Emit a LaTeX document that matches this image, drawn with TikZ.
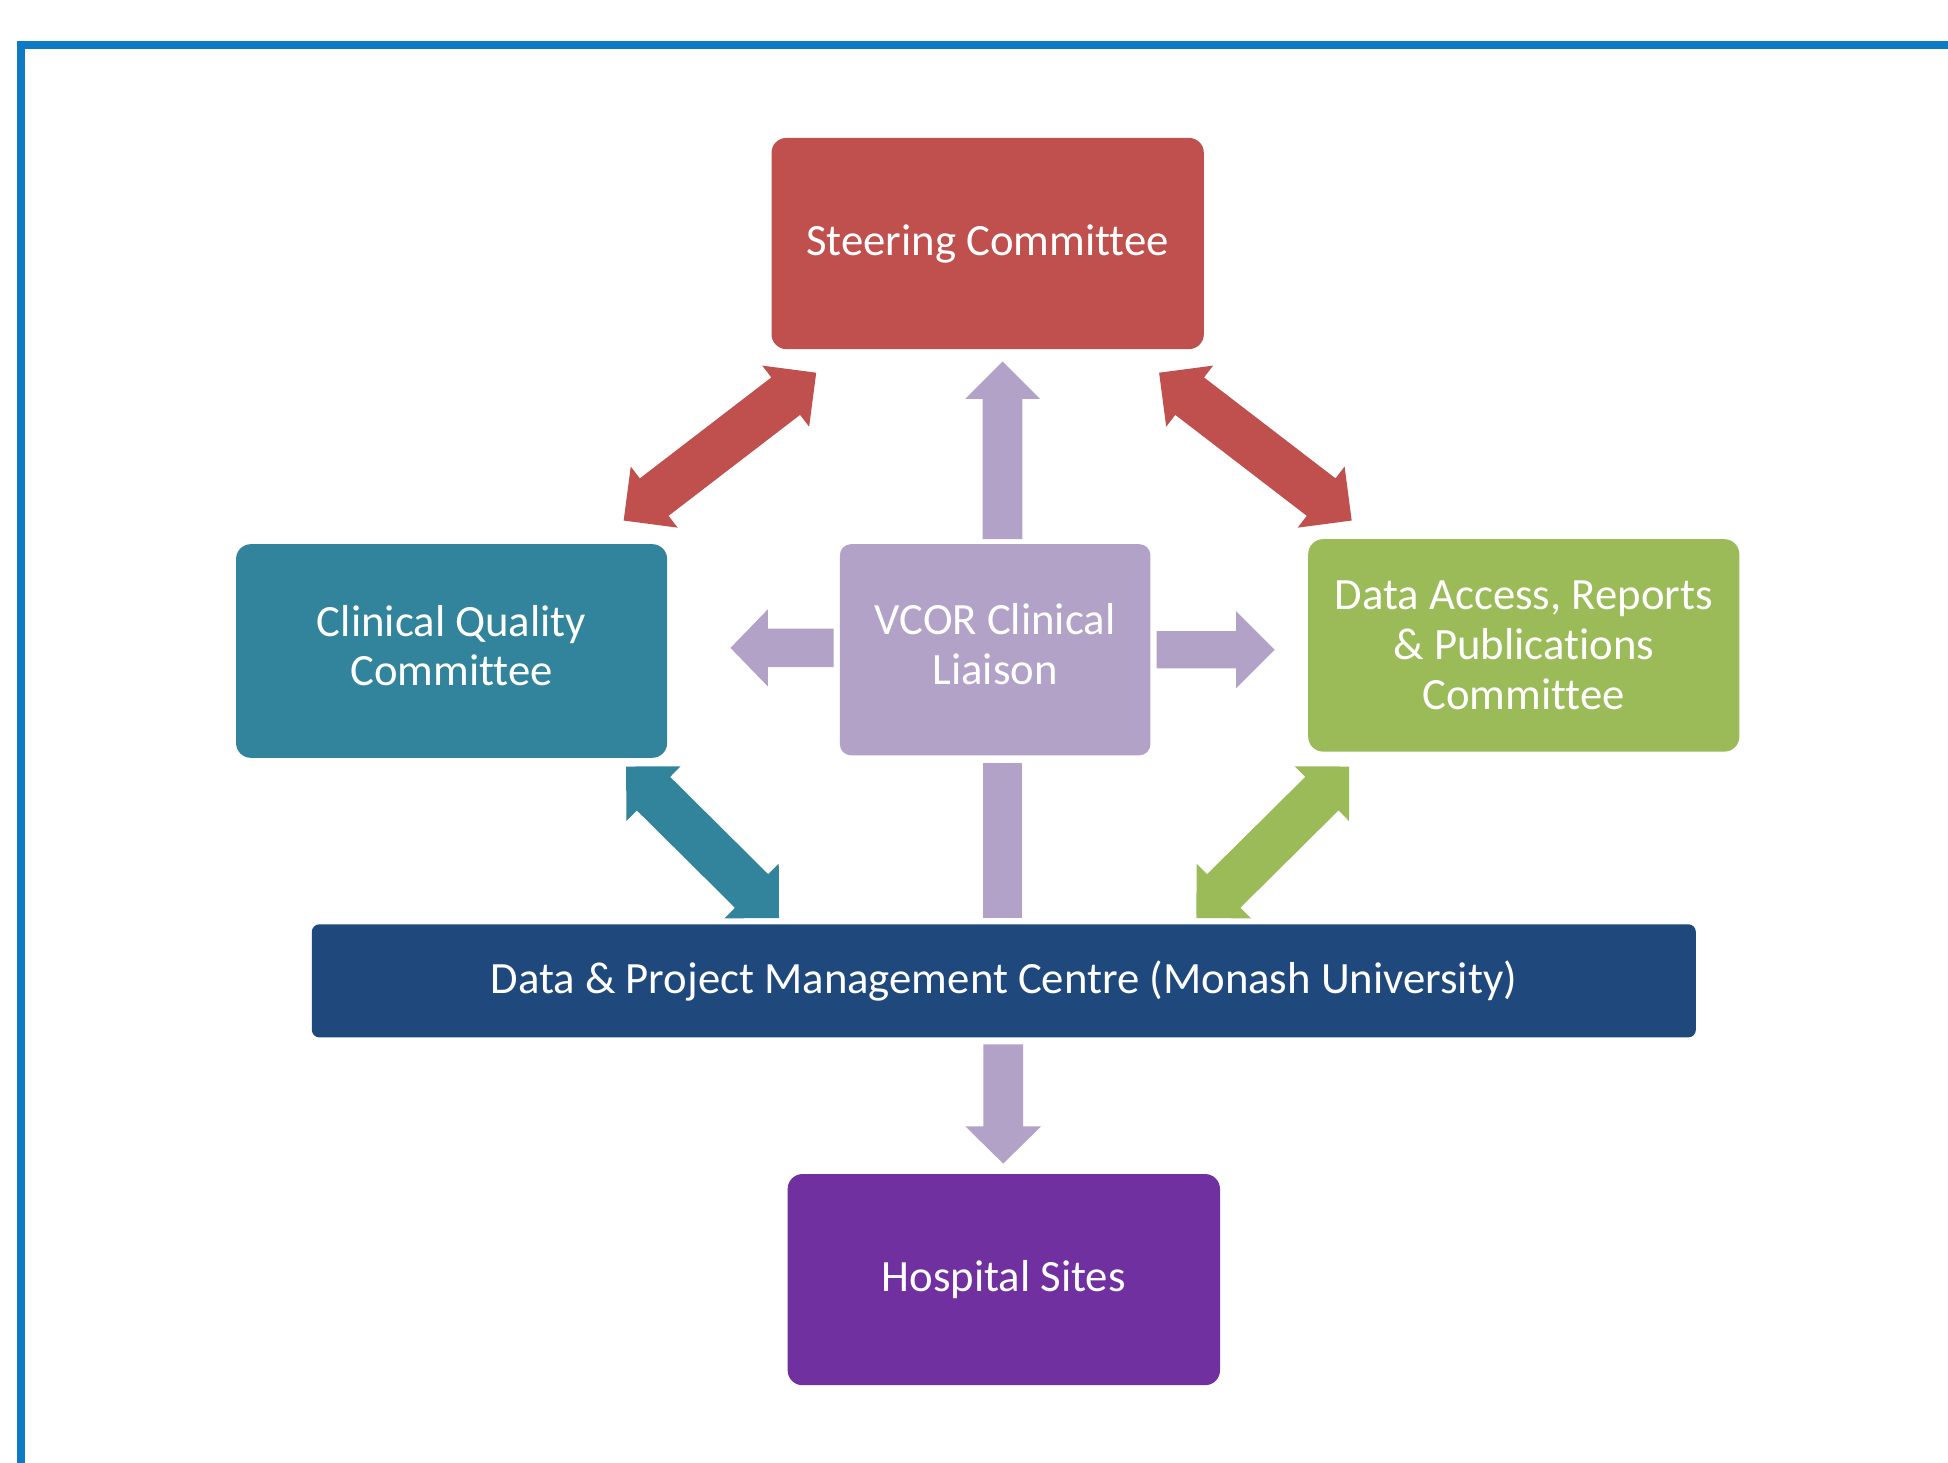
\documentclass[tikz,border=0pt]{standalone}
\usepackage{fontspec}
\setmainfont[Ligatures={NoCommon}]{Carlito}
\usetikzlibrary{calc}
\definecolor{cred}{HTML}{C0504D}
\definecolor{cteal}{HTML}{31849B}
\definecolor{clav}{HTML}{B2A2C7}
\definecolor{cgreen}{HTML}{9BBB59}
\definecolor{cnavy}{HTML}{1F497D}
\definecolor{cpurple}{HTML}{7030A0}
\definecolor{cframe}{HTML}{0E7AC4}
% double block arrow: #1,#2 tips, #3 colour, #4 head length, #5 half head width, #6 half shaft width
\newcommand\dblarr[6]{%
  \fill[#3] (#1) -- ($(#1)!#4!(#2)!#5!90:(#2)$) -- ($(#1)!#4!(#2)!#6!90:(#2)$)
    -- ($(#2)!#4!(#1)!#6!-90:(#1)$) -- ($(#2)!#4!(#1)!#5!-90:(#1)$) -- (#2)
    -- ($(#2)!#4!(#1)!#5!90:(#1)$) -- ($(#2)!#4!(#1)!#6!90:(#1)$)
    -- ($(#1)!#4!(#2)!#6!-90:(#2)$) -- ($(#1)!#4!(#2)!#5!-90:(#2)$) -- cycle;}
% single block arrow: #1 tail, #2 tip
\newcommand\sglarr[6]{%
  \fill[#3] ($(#1)!#6!90:(#2)$) -- ($(#2)!#4!(#1)!#6!-90:(#1)$) -- ($(#2)!#4!(#1)!#5!-90:(#1)$) -- (#2)
    -- ($(#2)!#4!(#1)!#5!90:(#1)$) -- ($(#2)!#4!(#1)!#6!90:(#1)$) -- ($(#1)!#6!-90:(#2)$) -- cycle;}
\tikzset{
  box/.style={rectangle, rounded corners=12pt, inner sep=0pt, outer sep=0pt,
    text=white, align=center, font=\fontsize{36}{40}\selectfont},
}
\begin{document}
\begin{tikzpicture}[x=1pt,y=-1pt]
\useasboundingbox (0,0) rectangle (1568,1177.6);
% frame
\fill[cframe] (14,33) rectangle (1568,39.5);
\fill[cframe] (14,33) rectangle (20.4,1177.6);
% boxes
\node[box, fill=cred, minimum width=348pt, minimum height=170pt] (steer) at (795,196) {Steering Committee};
\node[box, fill=cteal, minimum width=347pt, minimum height=172pt] (cqc) at (363.5,524) {\begin{tabular}{@{}c@{}}Clinical Quality\\Committee\end{tabular}};
\node[box, fill=clav, rounded corners=9pt, minimum width=250pt, minimum height=170pt] (vcor) at (801,523) {\raisebox{2pt}{\begin{tabular}{@{}c@{}}VCOR Clinical\\Liaison\end{tabular}}};
\node[box, fill=cgreen, minimum width=347pt, minimum height=171pt] (darp) at (1226.5,519.5) {Data Access, Reports\\\& Publications\\Committee};
\node[box, fill=cnavy, rounded corners=6pt, minimum width=1114pt, minimum height=91pt] (dpmc) at (808,789.5) {Data \& Project Management Centre (Monash University)};
\node[box, fill=cpurple, minimum width=348pt, minimum height=170pt] (hosp) at (808,1030) {Hospital Sites};
% connector end points
\coordinate (rl1) at (502,419);
\coordinate (rl2) at (657,300);
\coordinate (rr1) at (1088,419);
\coordinate (rr2) at (933,300);
\coordinate (tl1) at (504,617);
\coordinate (tl2) at (627,739);
\coordinate (gr1) at (1086,617);
\coordinate (gr2) at (963,739);
\coordinate (up1) at (807,434);
\coordinate (up2) at (807,291);
\coordinate (lf1) at (671,521.5);
\coordinate (lf2) at (588,521.5);
\coordinate (rt1) at (931,523);
\coordinate (rt2) at (1026,523);
\coordinate (dn1) at (807.5,840.6);
\coordinate (dn2) at (807.5,936.6);
% arrows
\dblarr{rl1}{rl2}{cred}{31pt}{31pt}{19pt}
\dblarr{rr1}{rr2}{cred}{31pt}{31pt}{19pt}
\dblarr{tl1}{tl2}{cteal}{31pt}{31pt}{19pt}
\dblarr{gr1}{gr2}{cgreen}{31pt}{31pt}{19pt}
\sglarr{up1}{up2}{clav}{30pt}{30pt}{16pt}
\sglarr{lf1}{lf2}{clav}{30pt}{31pt}{15.5pt}
\sglarr{rt1}{rt2}{clav}{31pt}{31pt}{15pt}
\sglarr{dn1}{dn2}{clav}{30pt}{30.5pt}{16pt}
\fill[clav] (vcor.south -| 791.5,0) ++(0,6) rectangle (823,739);
\end{tikzpicture}
\end{document}
